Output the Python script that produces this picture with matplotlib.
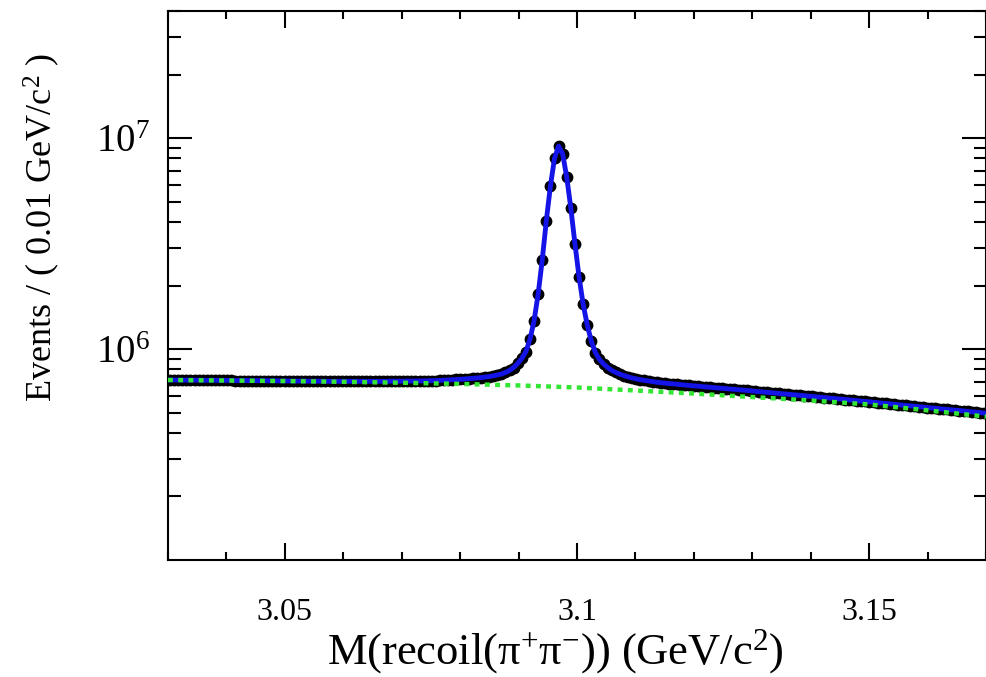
import numpy as np
import matplotlib
matplotlib.use("Agg")
import matplotlib.pyplot as plt
from matplotlib.ticker import FixedLocator, FixedFormatter, MultipleLocator, NullFormatter

plt.rcParams["font.family"] = ["Liberation Serif", "DejaVu Serif"]
plt.rcParams["mathtext.default"] = "regular"

# histogram range and binning
x_lo, x_hi, n_bins = 3.03, 3.17, 200

# events per bin, in units of 1e5
counts = [
    7.13, 7.13, 7.13, 7.12, 7.12, 7.12, 7.12, 7.12, 7.11, 7.11,
    7.11, 7.11, 7.10, 7.10, 7.10, 7.10, 7.09, 7.09, 7.09, 7.09,
    7.08, 7.08, 7.08, 7.08, 7.07, 7.07, 7.07, 7.06, 7.06, 7.06,
    7.05, 7.05, 7.05, 7.05, 7.04, 7.04, 7.04, 7.04, 7.03, 7.03,
    7.03, 7.03, 7.03, 7.03, 7.03, 7.03, 7.03, 7.03, 7.03, 7.03,
    7.03, 7.03, 7.03, 7.03, 7.04, 7.04, 7.04, 7.04, 7.05, 7.05,
    7.05, 7.06, 7.06, 7.07, 7.08, 7.09, 7.10, 7.12, 7.13, 7.15,
    7.17, 7.19, 7.21, 7.24, 7.26, 7.29, 7.32, 7.36, 7.40, 7.46,
    7.53, 7.61, 7.74, 7.91, 8.17, 8.54, 9.02, 9.71, 11.1, 13.6,
    18.2, 26.4, 40.6, 59.2, 80.1, 91.6, 84.0, 65.1, 46.4, 31.5,
    22.0, 16.3, 13.0, 10.9, 9.61, 8.92, 8.49, 8.17, 7.91, 7.74,
    7.60, 7.48, 7.37, 7.29, 7.22, 7.15, 7.10, 7.05, 7.00, 6.96,
    6.92, 6.89, 6.86, 6.83, 6.80, 6.77, 6.74, 6.72, 6.69, 6.67,
    6.64, 6.61, 6.59, 6.56, 6.54, 6.51, 6.49, 6.46, 6.44, 6.41,
    6.39, 6.36, 6.34, 6.31, 6.28, 6.26, 6.23, 6.21, 6.18, 6.16,
    6.13, 6.11, 6.08, 6.06, 6.03, 6.01, 5.98, 5.96, 5.93, 5.91,
    5.89, 5.86, 5.84, 5.81, 5.79, 5.76, 5.74, 5.71, 5.69, 5.66,
    5.64, 5.62, 5.59, 5.57, 5.54, 5.52, 5.50, 5.47, 5.45, 5.42,
    5.40, 5.38, 5.35, 5.33, 5.31, 5.28, 5.26, 5.24, 5.22, 5.19,
    5.17, 5.15, 5.13, 5.11, 5.09, 5.06, 5.04, 5.02, 5.00, 4.97,
]

# background component, in units of 1e5
bkg_mass = [3.03, 3.04, 3.05, 3.06, 3.07, 3.08, 3.09, 3.10,
            3.11, 3.12, 3.13, 3.14, 3.15, 3.16, 3.17]
bkg_counts = [7.13, 7.09, 7.05, 6.99, 6.92, 6.83, 6.72, 6.57,
              6.36, 6.15, 5.92, 5.70, 5.46, 5.12, 4.78]

y_ticks = [1e6, 1e7]
y_tick_labels = ["10$^{6}$", "10$^{7}$"]

edges = np.linspace(x_lo, x_hi, n_bins + 1)
mass = 0.5 * (edges[:-1] + edges[1:])
events = np.array(counts) * 1e5
bkg = np.array(bkg_counts) * 1e5

fig = plt.figure(figsize=(9.87, 6.77), dpi=100)
ax = fig.add_axes([168 / 987, 1 - 560 / 677, 818 / 987, 549 / 677])

ax.plot(mass, events, "o", color="black", ms=7.5, zorder=2)
ax.plot(mass, events, "-", color="#1414e6", lw=3.5, zorder=3)
ax.plot(bkg_mass, bkg, color="#33e633", lw=3.2, dashes=(1.1, 1.2), zorder=4)

ax.set_yscale("log")
ax.set_xlim(x_lo, x_hi)
ax.set_ylim(1e5, 4e7)

ax.xaxis.set_major_locator(FixedLocator([3.05, 3.10, 3.15]))
ax.xaxis.set_major_formatter(FixedFormatter(["3.05", "3.1", "3.15"]))
ax.xaxis.set_minor_locator(MultipleLocator(0.01))

minor_y = [m * 10 ** e for e in (5, 6, 7) for m in range(2, 10)]
ax.yaxis.set_major_locator(FixedLocator(y_ticks))
ax.yaxis.set_major_formatter(FixedFormatter(y_tick_labels))
ax.yaxis.set_minor_locator(FixedLocator(minor_y))
ax.yaxis.set_minor_formatter(NullFormatter())

ax.tick_params(which="both", direction="in", top=True, right=True, width=1.5)
ax.tick_params(axis="y", which="major", length=17, pad=13, labelsize=28)
ax.tick_params(axis="y", which="minor", length=9)
ax.tick_params(axis="x", which="major", length=12, pad=27, labelsize=23)
ax.tick_params(axis="x", which="minor", length=6)
for s in ax.spines.values():
    s.set_linewidth(1.5)

ax.set_xlabel("M(recoil(π$^{+}$π$^{-}$)) (GeV/c$^{2}$)", fontsize=32)
ax.xaxis.label.set_va("center")
ax.xaxis.set_label_coords(0.473, -0.167)
ax.set_ylabel("Events / ( 0.01 GeV/c$^{2}$ )", fontsize=26)
ax.yaxis.label.set_va("center")
ax.yaxis.set_label_coords(-0.154, 0.605)

fig.savefig("out.png", dpi=100)
